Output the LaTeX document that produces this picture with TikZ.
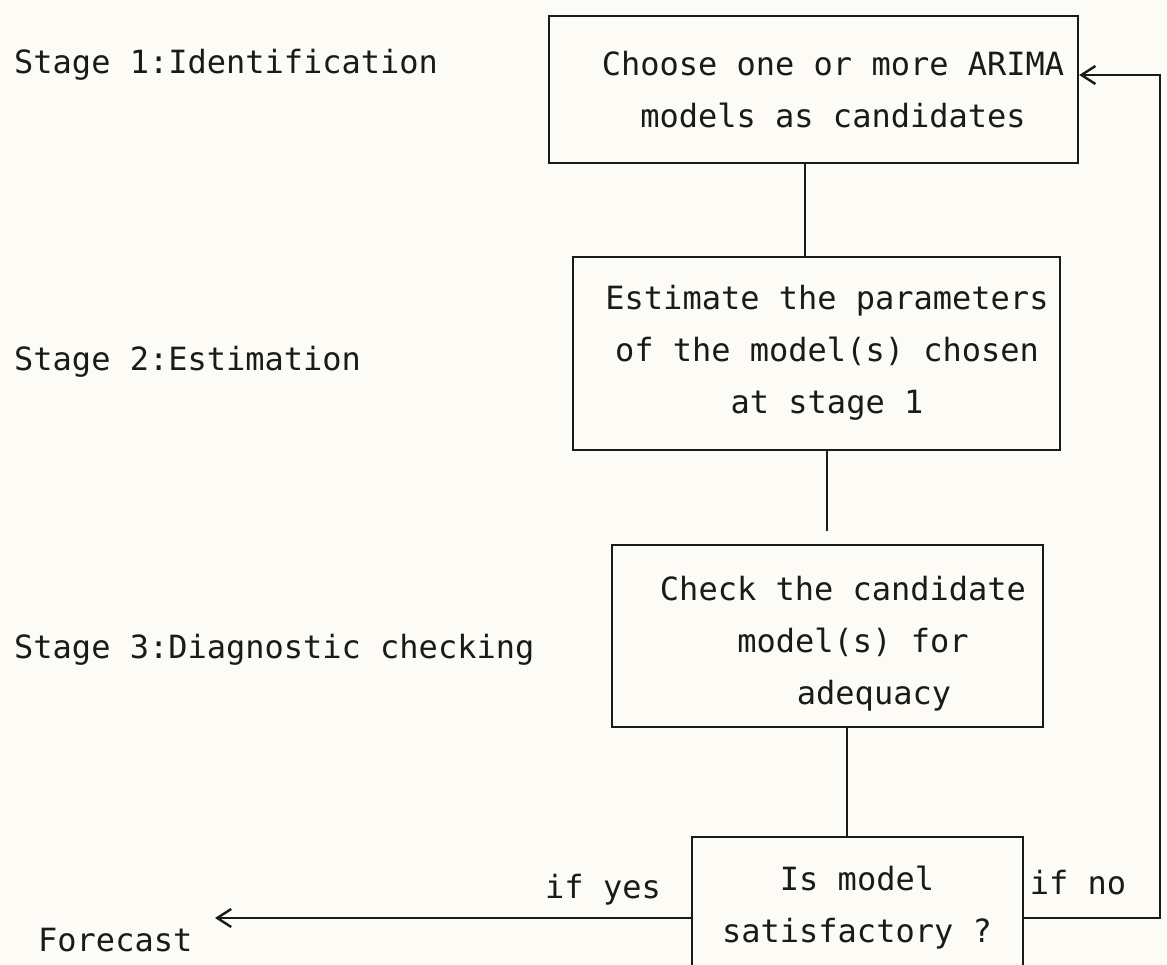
\documentclass[tikz,border=0pt]{standalone}
\usepackage{fontspec}
\newfontfamily\plotfont{DejaVu Sans Mono}
\usepackage{tikz}
\usetikzlibrary{arrows.meta}
\definecolor{ink}{HTML}{1A1A1A}
\definecolor{paper}{HTML}{FCFBF5}
\tikzset{
  box/.style={draw=ink, line width=2.4pt, rectangle, inner sep=0pt},
  link/.style={draw=ink, line width=2.4pt},
  back/.style={link, -{Straight Barb[length=14pt,width=18pt]}},
  lab/.style={text=ink, font=\plotfont\fontsize{32}{52}\selectfont, inner sep=0pt},
  txt/.style={lab, align=center},
}

\begin{document}
\begin{tikzpicture}[x=1pt,y=-1pt]
  \useasboundingbox[fill=paper] (0,0) rectangle (1167,965);
  \node[box, minimum width=529pt, minimum height=147pt] (choose) at (813.5,89.5) {};
  \node[box, minimum width=487pt, minimum height=193pt] (estimate) at (816.5,353.5) {};
  \node[box, minimum width=431pt, minimum height=182pt] (check) at (827.5,636) {};
  \node[box, minimum width=331pt, minimum height=162pt] (decide) at (857.5,918) {};
  \node[txt] (chooseT) at (833,89.5) {Choose one or more ARIMA\\models as candidates};
  \node[txt] (estimateT) at (827,352.5) {Estimate the parameters\\of the model(s) chosen\\at stage 1};
  \node[txt] (checkT) at (843,644) {Check the candidate\\\hspace*{20pt}model(s) for\\\hspace*{62pt}adequacy};
  \node[txt] (decideT) at (857,907.5) {Is model\\satisfactory ?};
  \node[lab, anchor=west] (stage1) at (14,65) {Stage 1:Identification};
  \node[lab, anchor=west] (stage2) at (14,362) {Stage 2:Estimation};
  \node[lab, anchor=west] (stage3) at (14,650) {Stage 3:Diagnostic checking};
  \node[lab, anchor=west] (forecast) at (38,940) {Forecast};
  \node[lab] (yes) at (603,890) {if yes};
  \node[lab] (no) at (1078,883) {if no};
  \coordinate (turn) at (1160,75);
  \coordinate (out) at (215,918);
  \draw[link] ([xshift=-8.5pt]choose.south) -- ([xshift=-11.5pt]estimate.north);
  \draw[link, shorten >=13pt] ([xshift=10.5pt]estimate.south) -- ([xshift=-0.5pt]check.north);
  \draw[link] ([xshift=19.5pt]check.south) -- ([xshift=-10.5pt]decide.north);
  \draw[back] (decide.east) -| (turn) -- (choose.east |- turn);
  \draw[back] (decide.west) -- (out);
\end{tikzpicture}
\end{document}
